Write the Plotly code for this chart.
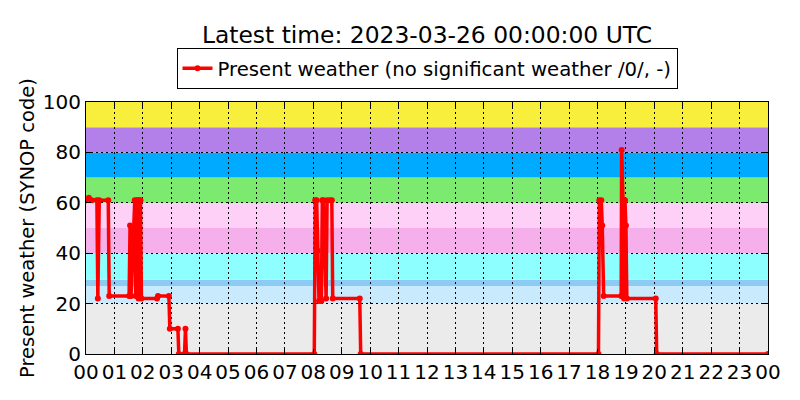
import pandas as pd
import plotly.graph_objects as go

# ---- data ----
base_date = "2023-03-25"
times = [
    "00:00", "00:06", "00:12", "00:23", "00:25", "00:28", "00:47", "00:49",
    "01:31", "01:33", "01:35", "01:43", "01:45", "01:47", "01:49", "01:51",
    "01:53", "01:55", "01:57", "02:30", "02:32", "02:55", "02:57", "03:14",
    "03:16", "03:28", "03:30", "03:32", "08:02", "08:04", "08:07", "08:09",
    "08:12", "08:17", "08:19", "08:21", "08:24", "08:27", "08:29", "08:35",
    "08:39", "08:41", "09:38", "09:40", "18:02", "18:04", "18:08", "18:10",
    "18:13", "18:50", "18:51", "18:54", "18:56", "18:58", "19:00", "19:02",
    "20:03", "20:05", "24:00",
]
present_weather = [
    61, 62, 61, 61, 22, 61, 61, 23,
    23, 51, 23, 61, 23, 61, 61, 22,
    61, 61, 22, 22, 23, 23, 10, 10,
    0, 0, 10, 0, 0, 61, 61, 41,
    21, 21, 61, 61, 41, 22, 61, 61,
    61, 22, 22, 0, 0, 61, 61, 51,
    23, 23, 81, 61, 22, 61, 51, 22,
    22, 0, 0,
]
hour_labels = ["%02d" % h for h in range(24)] + ["00"]

# background bands: (low code, high code)
band_ranges = [(0, 20), (20, 27), (27, 29.5), (29.5, 40), (40, 50),
               (50, 60), (60, 70), (70, 80), (80, 90), (90, 100)]
band_colors = ["#ebebeb", "#c8eafc", "#8dcbf5", "#8effff", "#f5b0ec",
               "#ffd0f7", "#7ce96f", "#00aaff", "#b380ea", "#f7ef3c"]

series_name = "Present weather (no significant weather /0/, -)"
title_text = "Latest time: 2023-03-26 00:00:00 UTC"

# ---- build ----
start = pd.Timestamp(base_date)
x = [start + pd.to_timedelta(t + ":00") for t in times]
tickvals = [start + pd.Timedelta(hours=h) for h in range(25)]

fig = go.Figure()
fig.add_trace(go.Scatter(
    x=x, y=present_weather, mode="lines+markers", name=series_name,
    line=dict(color="#ff0000", width=3.5),
    marker=dict(color="#ff0000", size=6),
    showlegend=True,
))

for (lo, hi), c in zip(band_ranges, band_colors):
    fig.add_shape(type="rect", xref="paper", yref="y", x0=0, x1=1, y0=lo, y1=hi,
                  fillcolor=c, line=dict(width=0), layer="below")

fig.update_layout(
    width=800, height=400,
    margin=dict(l=86, r=32, t=102, b=46, autoexpand=False),
    paper_bgcolor="white", plot_bgcolor="white",
    font=dict(family="DejaVu Sans", color="black", size=20),
    title=dict(text=title_text, x=0.5, xref="paper", xanchor="center",
               y=1 - 35 / 400, yanchor="middle", font=dict(size=23.4),
               automargin=False),
    legend=dict(x=0.5, xanchor="center", y=1.052, yanchor="bottom",
                orientation="h", bordercolor="black", borderwidth=1,
                bgcolor="white", font=dict(size=19.7)),
    showlegend=True,
)
fig.update_xaxes(
    type="date", range=[tickvals[0], tickvals[-1]],
    tickmode="array", tickvals=tickvals, ticktext=hour_labels,
    ticks="inside", ticklen=5, tickcolor="black",
    showline=True, linecolor="black", linewidth=1, mirror="ticks",
    showgrid=True, gridcolor="black", gridwidth=1, griddash="2px,3px",
    tickfont=dict(size=20), zeroline=False, automargin=False,
)
fig.update_yaxes(
    range=[0, 100], dtick=20, tick0=0,
    ticks="inside", ticklen=5, tickcolor="black",
    showline=True, linecolor="black", linewidth=1, mirror="ticks",
    showgrid=True, gridcolor="black", gridwidth=1, griddash="2px,3px",
    tickfont=dict(size=20), zeroline=False, automargin=False,
    title=dict(text="Present weather (SYNOP code)", font=dict(size=19.5), standoff=2),
)

fig.write_html("out.html", config={"displayModeBar": False},
               post_script="document.body.style.margin='0';")
